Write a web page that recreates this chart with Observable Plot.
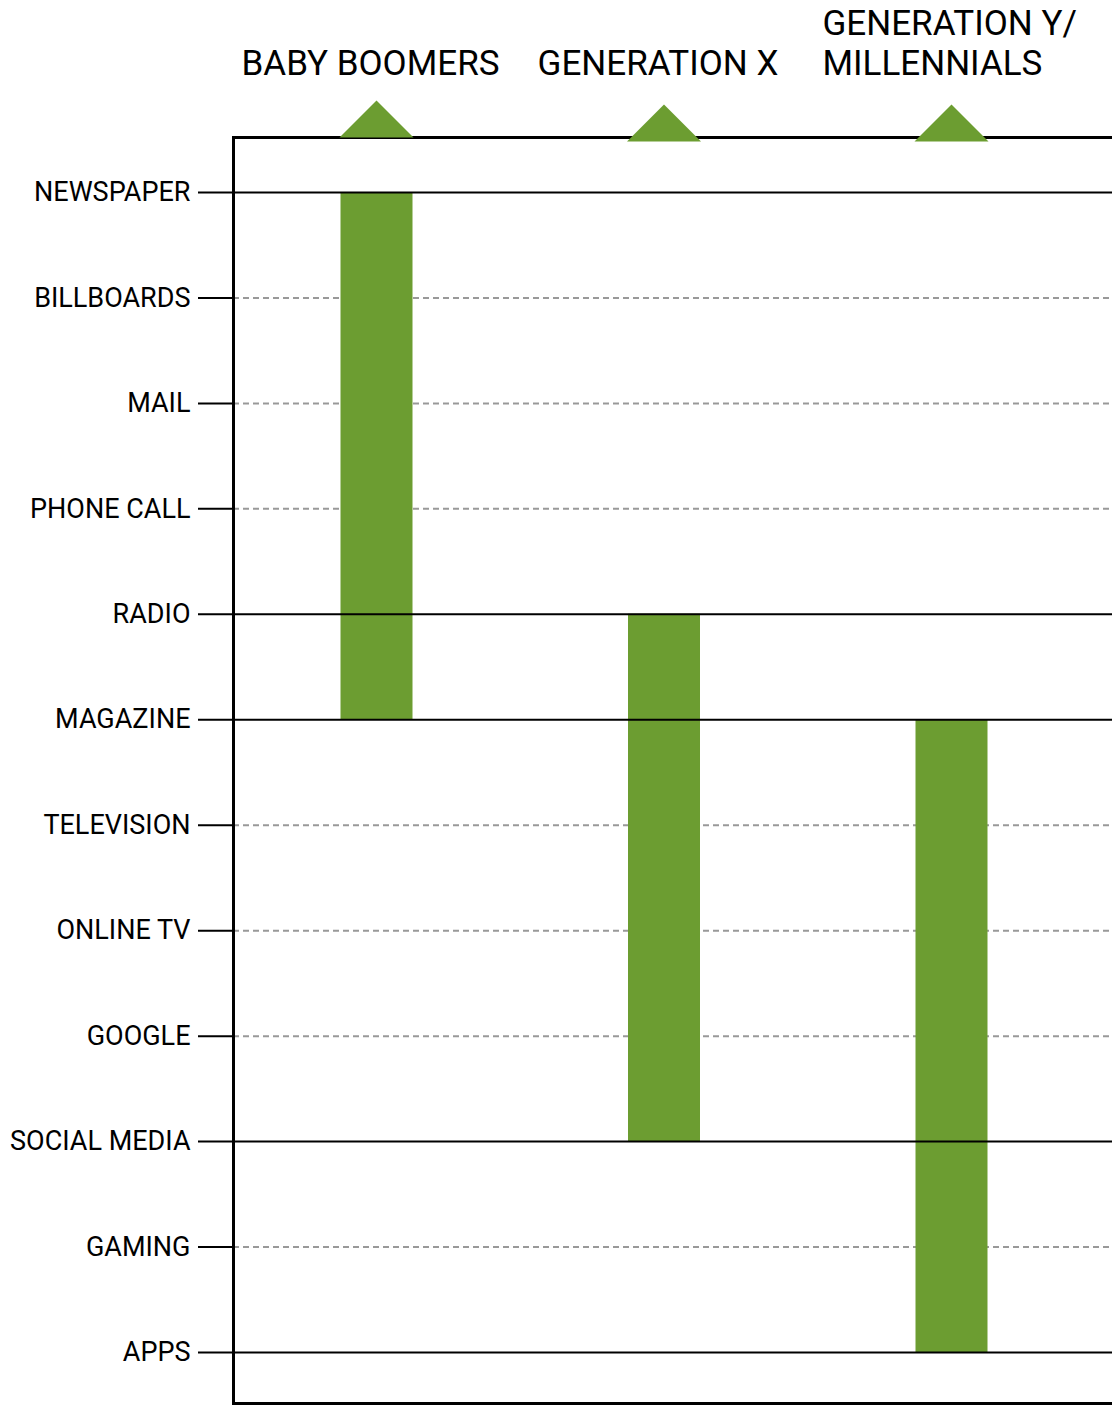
<!DOCTYPE html>
<html>
<head>
<meta charset="utf-8">
<script src="https://cdn.jsdelivr.net/npm/d3@7"></script>
<script src="https://cdn.jsdelivr.net/npm/@observablehq/plot@0.6"></script>
<style>
  html, body { margin: 0; padding: 0; background: #fff; }
  #chart svg { display: block; }
</style>
</head>
<body>
<div id="chart"></div>
<script>
const categories = ["NEWSPAPER", "BILLBOARDS", "MAIL", "PHONE CALL", "RADIO", "MAGAZINE",
  "TELEVISION", "ONLINE TV", "GOOGLE", "SOCIAL MEDIA", "GAMING", "APPS"];
const generations = ["BABY BOOMERS", "GENERATION X", "GENERATION Y/\nMILLENNIALS"];
const barStart = ["NEWSPAPER", "RADIO", "MAGAZINE"];
const barEnd = ["MAGAZINE", "SOCIAL MEDIA", "APPS"];
const solidLines = ["NEWSPAPER", "RADIO", "MAGAZINE", "SOCIAL MEDIA", "APPS"];
const dashedLines = categories.filter(c => !solidLines.includes(c));

const bars = generations.map((g, i) => ({gen: g, start: barStart[i], end: barEnd[i]}));
const green = "#6c9d31";

const triangle = {
  draw(context) {
    context.moveTo(-37, 0);
    context.lineTo(0, -37);
    context.lineTo(37, 0);
    context.closePath();
  }
};

const chart = Plot.plot({
  width: 1112,
  height: 1405,
  marginTop: 137,
  marginLeft: 233,
  marginRight: 0,
  marginBottom: 2,
  style: {fontFamily: "Roboto, sans-serif", fontSize: "27px", color: "#000", background: "#fff"},
  x: {type: "point", domain: generations, range: [376, 951], padding: 0, round: false, axis: null},
  y: {type: "point", domain: categories, range: [192, 1352], padding: 0, round: false, axis: null},
  marks: [
    Plot.ruleY(dashedLines, {y: d => d, stroke: "#999", strokeWidth: 2, strokeDasharray: "6,4"}),
    Plot.ruleX(bars, {x: "gen", y1: "start", y2: "end", stroke: green, strokeWidth: 72, strokeLinecap: "butt"}),
    Plot.ruleY(solidLines, {y: d => d, stroke: "#000", strokeWidth: 2}),
    Plot.axisY({tickSize: 35, tickPadding: 8, fontSize: 27, strokeWidth: 2, stroke: "#000", fill: "#000"}),
    Plot.frame({anchor: "left", stroke: "#000", strokeWidth: 3}),
    Plot.frame({anchor: "top", stroke: "#000", strokeWidth: 3}),
    Plot.frame({anchor: "bottom", stroke: "#000", strokeWidth: 3}),
    Plot.dot(generations.slice(0, 1), {x: d => d, frameAnchor: "top", symbol: triangle, r: 10, fill: green, dy: 0}),
    Plot.dot(generations.slice(1), {x: d => d, frameAnchor: "top", symbol: triangle, r: 10, fill: green, dy: 4}),
    Plot.text(generations.slice(0, 2), {x: d => d, text: d => d, frameAnchor: "top", lineAnchor: "bottom",
      dy: -63, dx: -6, textAnchor: "middle", fontSize: 35, fontWeight: "normal", fill: "#000"}),
    Plot.text(generations.slice(2), {x: d => d, text: d => d, frameAnchor: "top", lineAnchor: "bottom",
      dy: -63, dx: -129, textAnchor: "start", fontSize: 35, fontWeight: "normal", lineHeight: 1.12, fill: "#000"})
  ]
});
document.getElementById("chart").appendChild(chart);
</script>
</body>
</html>
